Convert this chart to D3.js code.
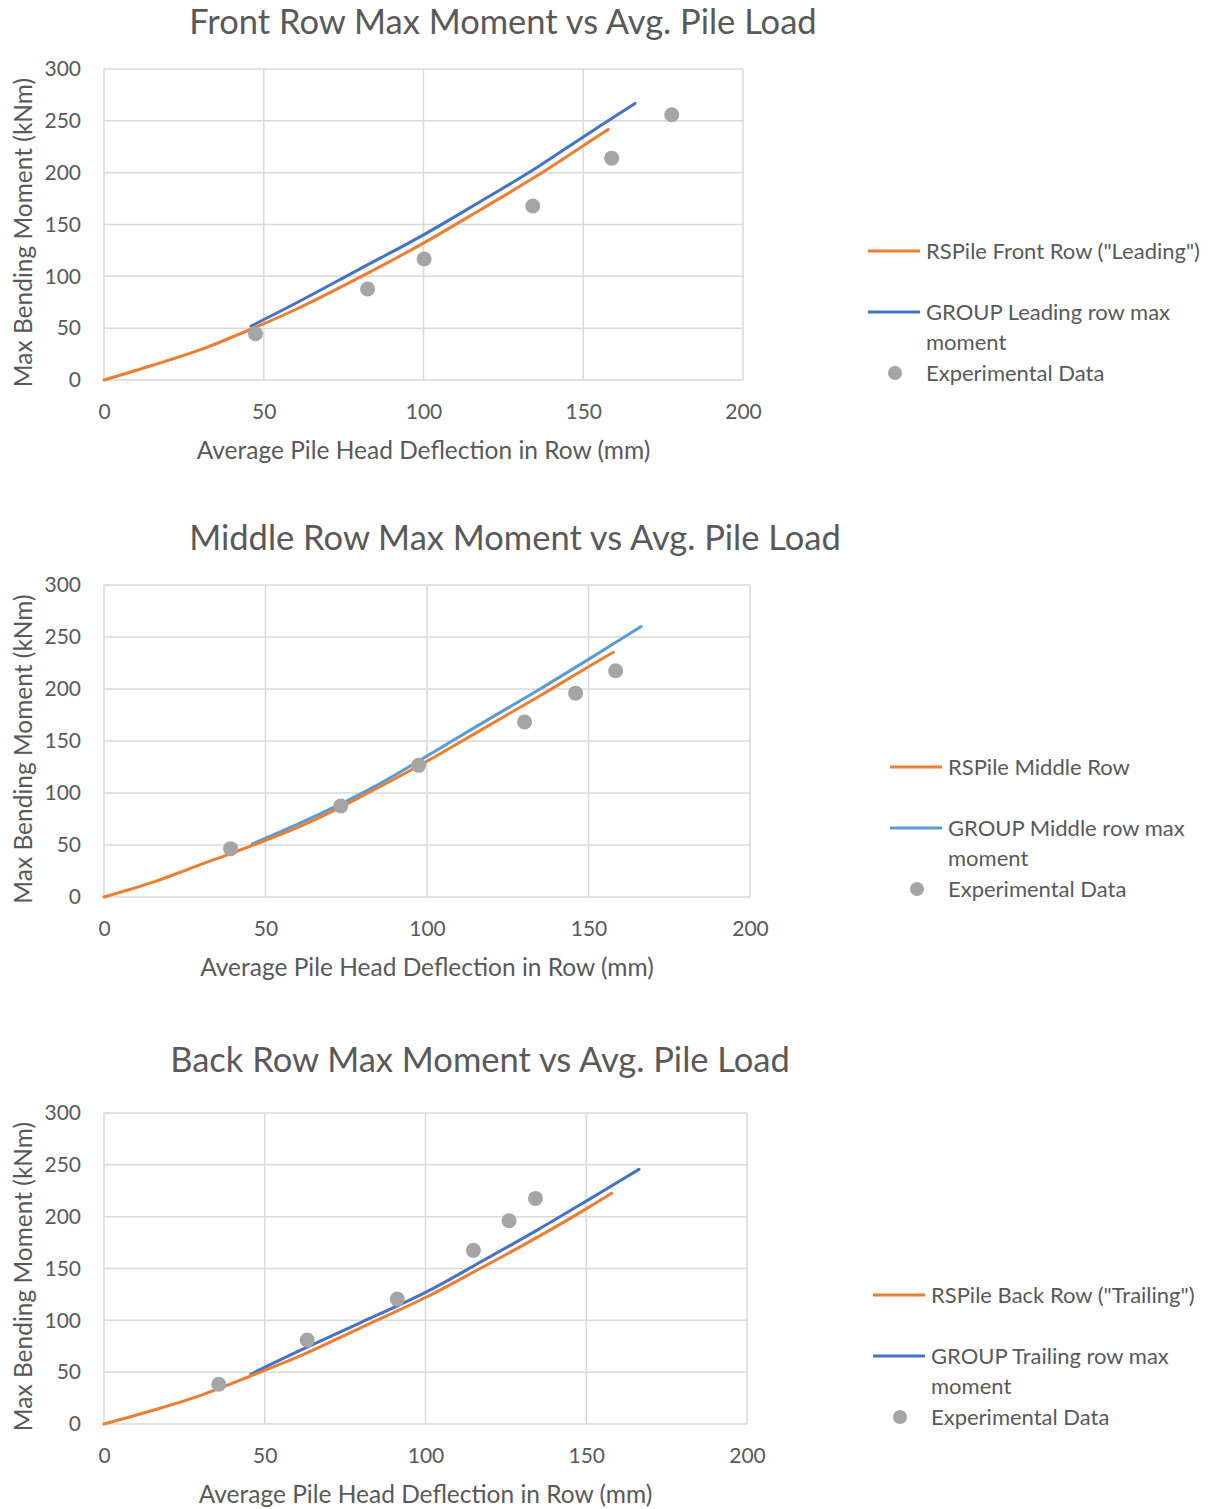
<!DOCTYPE html>
<html>
<head>
<meta charset="utf-8">
<script src="https://cdn.jsdelivr.net/npm/d3@7"></script>
<style>
  body { margin: 0; background: #fff; }
  svg text { font-family: Lato, "Open Sans", sans-serif; fill: #595959; }
</style>
</head>
<body>
<div id="charts"></div>
<script>
var svgWidth = 1216;
var svgHeight = 1509;

var xTicks = [0, 50, 100, 150, 200];
var yTicks = [0, 50, 100, 150, 200, 250, 300];

// Front row
var frontTitle = "Front Row Max Moment vs Avg. Pile Load";
var frontNames = ["RSPile Front Row (\"Leading\")", "GROUP Leading row max moment", "Experimental Data"];
var frontRSPile = [[0, 0], [15, 14], [30, 29], [46, 49], [60, 68], [80, 99], [100, 132], [117.7, 164], [135, 196], [150, 226], [157.8, 241.7]];
var frontGroup = [[46, 52], [60, 74], [80, 107], [100, 140], [117.7, 172], [135, 204], [150, 234.5], [166.2, 266.8]];
var frontExp = [[47.4, 44.6], [82.5, 87.8], [100.2, 116.7], [134.2, 167.8], [158.9, 214], [177.7, 255.9]];

// Middle row
var middleTitle = "Middle Row Max Moment vs Avg. Pile Load";
var middleNames = ["RSPile Middle Row", "GROUP Middle row max moment", "Experimental Data"];
var middleRSPile = [[0, 0], [15, 14], [28, 29], [45.4, 49], [60, 67], [73, 86], [86, 107], [100, 130.5], [116.4, 160], [135, 193.5], [150, 221.4], [157.7, 235.3]];
var middleGroup = [[45.9, 51], [60, 70], [73, 89], [86, 110], [100, 135.5], [116.4, 166], [135, 200], [150, 228.5], [166.3, 260]];
var middleExp = [[39.2, 46.5], [73.3, 87.5], [97.4, 126.6], [130.2, 168.3], [146, 196], [158.4, 217.6]];

// Back row
var backTitle = "Back Row Max Moment vs Avg. Pile Load";
var backNames = ["RSPile Back Row (\"Trailing\")", "GROUP Trailing row max moment", "Experimental Data"];
var backRSPile = [[0, 0], [15, 13], [28, 25.4], [45.6, 46.3], [61, 65.6], [80, 93], [100, 122], [117, 150], [135, 180.5], [150, 207.5], [157.9, 222.5]];
var backGroup = [[45.7, 48.2], [61, 71], [80, 98], [100, 127], [117, 156], [135, 187.5], [150, 215], [166.4, 245.6]];
var backExp = [[35.7, 38.3], [63.2, 81], [91.2, 120.5], [114.9, 167.5], [126, 196], [134.2, 217.6]];

var charts = [
  { title: frontTitle, names: frontNames, rspile: frontRSPile, group: frontGroup, exp: frontExp,
    groupColor: "#4472C4", left: 104, right: 743, top: 69, bottom: 380, titleX: 503, titleY: 22,
    legendX: 868, legendY: 251 },
  { title: middleTitle, names: middleNames, rspile: middleRSPile, group: middleGroup, exp: middleExp,
    groupColor: "#5B9BD5", left: 104, right: 750, top: 585, bottom: 897, titleX: 515, titleY: 538,
    legendX: 890, legendY: 767 },
  { title: backTitle, names: backNames, rspile: backRSPile, group: backGroup, exp: backExp,
    groupColor: "#4472C4", left: 104, right: 747, top: 1113, bottom: 1424, titleX: 480, titleY: 1060,
    legendX: 873, legendY: 1295 }
];

var svg = d3.select("#charts")
  .append("svg")
  .attr("width", svgWidth)
  .attr("height", svgHeight);

charts.forEach(function(c) {
  var xScale = d3.scaleLinear().domain([0, 200]).range([c.left, c.right]);
  var yScale = d3.scaleLinear().domain([0, 300]).range([c.bottom, c.top]);

  var g = svg.append("g");

  // gridlines
  g.selectAll(".hgrid")
    .data(yTicks)
    .enter()
    .append("line")
    .attr("x1", c.left).attr("x2", c.right)
    .attr("y1", d => yScale(d)).attr("y2", d => yScale(d))
    .attr("stroke", "#d9d9d9").attr("stroke-width", 1.5);

  g.selectAll(".vgrid")
    .data(xTicks)
    .enter()
    .append("line")
    .attr("x1", d => xScale(d)).attr("x2", d => xScale(d))
    .attr("y1", c.top).attr("y2", c.bottom)
    .attr("stroke", "#d9d9d9").attr("stroke-width", 1.5);

  // axes (labels only)
  var bottomAxis = d3.axisBottom(xScale).tickValues(xTicks).tickSize(0).tickPadding(24);
  var leftAxis = d3.axisLeft(yScale).tickValues(yTicks).tickSize(0).tickPadding(23);

  var xAxisG = g.append("g")
    .attr("transform", `translate(0, ${c.bottom})`)
    .call(bottomAxis);
  var yAxisG = g.append("g")
    .attr("transform", `translate(${c.left}, 0)`)
    .call(leftAxis);
  [xAxisG, yAxisG].forEach(function(a) {
    a.select(".domain").remove();
    a.selectAll("text").attr("font-size", 21).attr("font-family", null).attr("fill", "#595959");
  });

  // lines
  var line = d3.line()
    .x(d => xScale(d[0]))
    .y(d => yScale(d[1]))
    .curve(d3.curveCatmullRom);

  g.append("path")
    .datum(c.group)
    .attr("d", line)
    .attr("fill", "none")
    .attr("stroke", c.groupColor)
    .attr("stroke-width", 3)
    .attr("stroke-linecap", "round");

  g.append("path")
    .datum(c.rspile)
    .attr("d", line)
    .attr("fill", "none")
    .attr("stroke", "#ED7D31")
    .attr("stroke-width", 3)
    .attr("stroke-linecap", "round");

  g.selectAll(".pt")
    .data(c.exp)
    .enter()
    .append("circle")
    .attr("cx", d => xScale(d[0]))
    .attr("cy", d => yScale(d[1]))
    .attr("r", 7.5)
    .attr("fill", "#A5A5A5");

  // title
  g.append("text")
    .attr("x", c.titleX)
    .attr("y", c.titleY)
    .attr("dy", "0.35em")
    .attr("text-anchor", "middle")
    .attr("font-size", 34.5)
    .text(c.title);

  // axis titles
  g.append("text")
    .attr("x", (c.left + c.right) / 2)
    .attr("y", c.bottom + 70)
    .attr("dy", "0.35em")
    .attr("text-anchor", "middle")
    .attr("font-size", 24.5)
    .text("Average Pile Head Deflection in Row (mm)");

  g.append("text")
    .attr("transform", `translate(23, ${(c.top + c.bottom) / 2 + 8}) rotate(-90)`)
    .attr("dy", "0.35em")
    .attr("text-anchor", "middle")
    .attr("font-size", 24.5)
    .text("Max Bending Moment (kNm)");

  // legend
  var lg = g.append("g").attr("transform", `translate(${c.legendX}, ${c.legendY})`);
  lg.append("line").attr("x1", 0).attr("x2", 52).attr("y1", 0).attr("y2", 0)
    .attr("stroke", "#ED7D31").attr("stroke-width", 3);
  lg.append("text").attr("x", 58).attr("y", 0).attr("dy", "0.35em")
    .attr("font-size", 22).text(c.names[0]);

  lg.append("line").attr("x1", 0).attr("x2", 52).attr("y1", 61).attr("y2", 61)
    .attr("stroke", c.groupColor).attr("stroke-width", 3);
  var words = c.names[1].split(" ");
  lg.append("text").attr("x", 58).attr("y", 61).attr("dy", "0.35em")
    .attr("font-size", 22).text(words.slice(0, -1).join(" "));
  lg.append("text").attr("x", 58).attr("y", 91).attr("dy", "0.35em")
    .attr("font-size", 22).text(words[words.length - 1]);

  lg.append("circle").attr("cx", 27).attr("cy", 122).attr("r", 7).attr("fill", "#A5A5A5");
  lg.append("text").attr("x", 58).attr("y", 122).attr("dy", "0.35em")
    .attr("font-size", 22).text(c.names[2]);
});
</script>
</body>
</html>
